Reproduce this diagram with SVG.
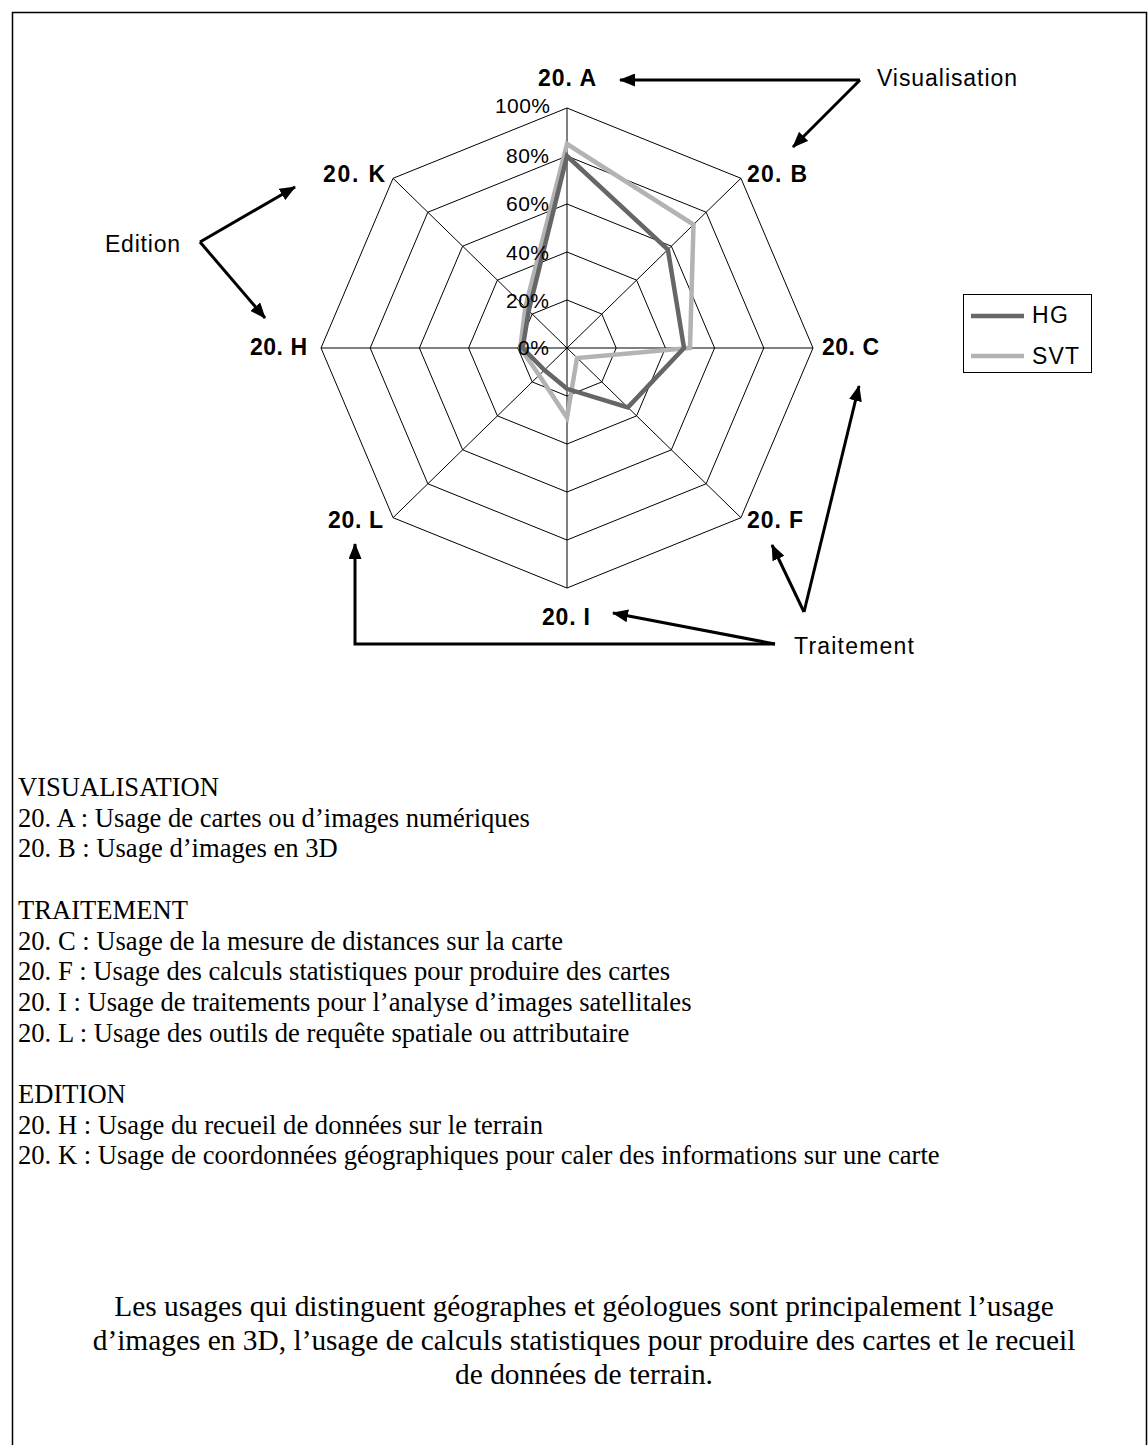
<svg xmlns="http://www.w3.org/2000/svg" width="1148" height="1445" viewBox="0 0 1148 1445">
<style>
.grid{fill:none;stroke:#000;stroke-width:1}
.hg{fill:none;stroke:#666;stroke-width:4.5;stroke-linejoin:miter}
.svt{fill:none;stroke:#b3b3b3;stroke-width:4.5;stroke-linejoin:miter}
.ax{font-family:"Liberation Sans",Arial,sans-serif;font-weight:bold;font-size:23px;fill:#000}
.pct{font-family:"Liberation Sans",Arial,sans-serif;font-size:21px;fill:#000;text-anchor:end}
.ann{font-family:"Liberation Sans",Arial,sans-serif;font-size:23px;fill:#000}
.leg{font-family:"Liberation Sans",Arial,sans-serif;font-size:23px;fill:#000}
.conn{fill:none;stroke:#000;stroke-width:3}
.body{font-family:"Liberation Serif","Times New Roman",serif;font-size:26.6px;fill:#000}
.concl{font-family:"Liberation Serif","Times New Roman",serif;font-size:29.4px;fill:#000;text-anchor:middle}
</style>
<defs>
<marker id="arr" viewBox="0 0 16 13" refX="15" refY="6.5" markerWidth="16" markerHeight="13" markerUnits="userSpaceOnUse" orient="auto">
<path d="M0,0 L16,6.5 L0,13 Z" fill="#000"/>
</marker>
</defs>
<rect x="12.5" y="12.5" width="1134" height="1450" fill="#fff" stroke="#000" stroke-width="1.5"/>

<g id="grid">
<polygon class="grid" points="567,108 740.95,178.3 813,348 740.95,517.7 567,588 393.05,517.7 321,348 393.05,178.3"/>
<polygon class="grid" points="567,156 706.16,212.24 763.8,348 706.16,483.76 567,540 427.84,483.76 370.2,348 427.84,212.24"/>
<polygon class="grid" points="567,204 671.37,246.18 714.6,348 671.37,449.82 567,492 462.63,449.82 419.4,348 462.63,246.18"/>
<polygon class="grid" points="567,252 636.58,280.12 665.4,348 636.58,415.88 567,444 497.42,415.88 468.6,348 497.42,280.12"/>
<polygon class="grid" points="567,300 601.79,314.06 616.2,348 601.79,381.94 567,396 532.21,381.94 517.8,348 532.21,314.06"/>
<path class="grid" d="M567,108 V588 M321,348 H813 M393.05,178.3 L740.95,517.7 M740.95,178.3 L393.05,517.7"/>
</g>

<g id="series-SVT">
<polygon class="svt" points="567,144 693.5,224.5 690,348 577,358 567,417.6 539.2,375.2 520.3,348 525.3,307.3"/>
</g>
<g id="series-HG">
<polygon class="hg" points="567,156 667.9,249.6 684,348 627.9,407.4 567,388.8 544.4,370.1 522.7,348 528.7,310.7"/>
</g>

<g id="scale-labels">
<text class="pct" x="550" y="113" textLength="55">100%</text>
<text class="pct" x="549" y="163" textLength="43">80%</text>
<text class="pct" x="549" y="211" textLength="43">60%</text>
<text class="pct" x="549" y="260" textLength="43">40%</text>
<text class="pct" x="549" y="308" textLength="43">20%</text>
<text class="pct" x="549" y="355" textLength="31">0%</text>
</g>

<g id="axis-labels">
<g id="node-20A"><text class="ax" x="538" y="86" textLength="58">20. A</text></g>
<g id="node-20B"><text class="ax" x="747" y="182" textLength="60">20. B</text></g>
<g id="node-20C"><text class="ax" x="822" y="355" textLength="57">20. C</text></g>
<g id="node-20F"><text class="ax" x="747" y="528" textLength="56">20. F</text></g>
<g id="node-20I"><text class="ax" x="542" y="625" textLength="48">20. I</text></g>
<g id="node-20L"><text class="ax" x="328" y="528" textLength="55">20. L</text></g>
<g id="node-20H"><text class="ax" x="250" y="355" textLength="57">20. H</text></g>
<g id="node-20K"><text class="ax" x="323" y="182" textLength="62">20. K</text></g>
</g>

<g id="legend">
<rect x="963.5" y="294.5" width="128" height="78" fill="#fff" stroke="#000" stroke-width="1"/>
<line x1="971" y1="316" x2="1024" y2="316" stroke="#666" stroke-width="4.5"/>
<line x1="971" y1="356" x2="1024" y2="356" stroke="#b3b3b3" stroke-width="4.5"/>
<text class="leg" x="1032" y="323" textLength="36">HG</text>
<text class="leg" x="1032" y="364" textLength="47">SVT</text>
</g>

<g id="node-visualisation"><text class="ann" x="877" y="86" textLength="140">Visualisation</text></g>
<g id="node-edition"><text class="ann" x="105" y="252" textLength="75">Edition</text></g>
<g id="node-traitement"><text class="ann" x="794" y="654" textLength="120">Traitement</text></g>

<g id="connectors">
<path class="conn" d="M860,80 H620" marker-end="url(#arr)"/>
<path class="conn" d="M860,80 L793,147" marker-end="url(#arr)"/>
<path class="conn" d="M200,242 L295,187" marker-end="url(#arr)"/>
<path class="conn" d="M200,242 L265,318" marker-end="url(#arr)"/>
<path class="conn" d="M775,644 L613,613" marker-end="url(#arr)"/>
<path class="conn" d="M775,644 H355 V544" marker-end="url(#arr)"/>
<path class="conn" d="M804,612 L772,545" marker-end="url(#arr)"/>
<path class="conn" d="M804,612 L859,386" marker-end="url(#arr)"/>
</g>

<g id="legend-text">
<text class="body" x="18" y="796">VISUALISATION</text>
<text class="body" x="18" y="826.7">20. A : Usage de cartes ou d’images numériques</text>
<text class="body" x="18" y="857.4">20. B : Usage d’images en 3D</text>
<text class="body" x="18" y="918.8">TRAITEMENT</text>
<text class="body" x="18" y="949.5">20. C : Usage de la mesure de distances sur la carte</text>
<text class="body" x="18" y="980.2">20. F : Usage des calculs statistiques pour produire des cartes</text>
<text class="body" x="18" y="1010.9">20. I : Usage de traitements pour l’analyse d’images satellitales</text>
<text class="body" x="18" y="1041.6">20. L : Usage des outils de requête spatiale ou attributaire</text>
<text class="body" x="18" y="1103">EDITION</text>
<text class="body" x="18" y="1133.7">20. H : Usage du recueil de données sur le terrain</text>
<text class="body" x="18" y="1164.4">20. K : Usage de coordonnées géographiques pour caler des informations sur une carte</text>
</g>

<g id="conclusion">
<text class="concl" x="584" y="1316">Les usages qui distinguent géographes et géologues sont principalement l’usage</text>
<text class="concl" x="584" y="1350">d’images en 3D, l’usage de calculs statistiques pour produire des cartes et le recueil</text>
<text class="concl" x="584" y="1384">de données de terrain.</text>
</g>
</svg>
